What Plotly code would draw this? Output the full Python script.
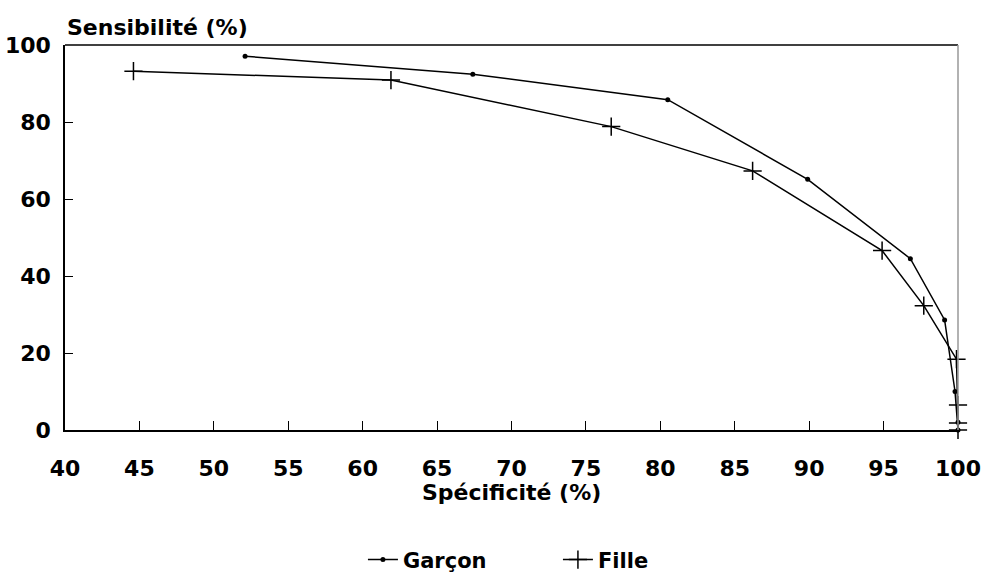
import plotly.graph_objects as go

garcon_x = [52.1, 67.4, 80.5, 89.9, 96.8, 99.1, 99.8, 100, 100]
garcon_y = [97.1, 92.4, 85.8, 65.1, 44.5, 28.6, 10.0, 2.0, 0]
fille_x = [44.6, 61.9, 76.7, 86.2, 94.9, 97.7, 99.9, 100, 100, 100]
fille_y = [93.2, 90.9, 78.8, 67.3, 46.6, 32.3, 18.4, 6.5, 1.8, 0]
x_ticks = [40, 45, 50, 55, 60, 65, 70, 75, 80, 85, 90, 95, 100]
y_ticks = [0, 20, 40, 60, 80, 100]

FONT = "DejaVu Sans"

fig = go.Figure()
fig.add_trace(go.Scatter(
    x=garcon_x, y=garcon_y, name="Garçon", mode="lines+markers",
    line=dict(color="black", width=1.5),
    marker=dict(symbol="circle", size=5, color="black"),
    cliponaxis=False,
))
fig.add_trace(go.Scatter(
    x=fille_x, y=fille_y, name="Fille", mode="lines+markers",
    line=dict(color="black", width=1.5),
    marker=dict(symbol="cross-thin", size=13, color="black",
                line=dict(color="black", width=1.5)),
    cliponaxis=False,
))

fig.update_layout(
    width=985, height=579,
    margin=dict(l=65, r=27, t=45, b=149),
    paper_bgcolor="white", plot_bgcolor="white",
    font=dict(family=FONT, color="black", size=21, weight="bold"),
    showlegend=True,
    legend=dict(orientation="h", x=0.552, xanchor="center",
                yref="container", y=0.033, yanchor="middle",
                font=dict(family=FONT, size=21, weight="bold"),
                entrywidth=150, tracegroupgap=0),
    xaxis=dict(
        range=[40, 100], tickvals=x_ticks, ticktext=[str(v) for v in x_ticks],
        ticks="inside", ticklen=9, tickwidth=1, tickcolor="black",
        ticklabelstandoff=18,
        showline=True, linecolor="black", linewidth=1.5, mirror=False,
        showgrid=False, zeroline=False, automargin=False,
        tickfont=dict(family=FONT, size=22, weight="bold"),
    ),
    yaxis=dict(
        range=[0, 100], tickvals=y_ticks, ticktext=[str(v) for v in y_ticks],
        ticks="inside", ticklen=8, tickwidth=1, tickcolor="black",
        ticklabelstandoff=8,
        showline=True, linecolor="black", linewidth=1.5, mirror=False,
        showgrid=False, zeroline=False, automargin=False,
        tickfont=dict(family=FONT, size=22, weight="bold"),
    ),
    shapes=[
        dict(type="line", xref="paper", yref="paper", x0=0, x1=1, y0=1, y1=1,
             line=dict(color="black", width=1.5)),
        dict(type="line", xref="paper", yref="paper", x0=1, x1=1, y0=0, y1=1,
             line=dict(color="#999999", width=1.5)),
    ],
    annotations=[
        dict(text="Sensibilité (%)", xref="paper", yref="paper", x=0, y=1,
             xanchor="left", yanchor="bottom", yshift=3, showarrow=False,
             font=dict(family=FONT, size=22, weight="bold")),
        dict(text="Spécificité (%)", xref="paper", yref="paper", x=0.5, y=-0.1636,
             xanchor="center", yanchor="middle", showarrow=False,
             font=dict(family=FONT, size=22, weight="bold")),
    ],
)

fig.write_html("out.html")
